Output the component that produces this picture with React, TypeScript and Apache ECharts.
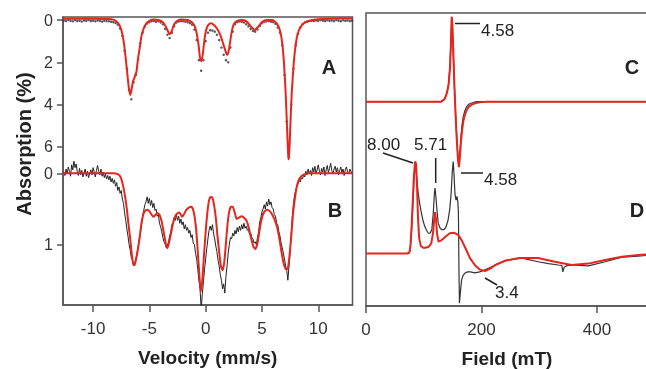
import React, { useEffect, useRef } from "react";
import * as echarts from "echarts";

// ---------- axis ticks ----------
const velocityTicks = [-10, -5, 0, 5, 10];
const aAbsTicks = [0, 2, 4, 6];
const bAbsTicks = [0, 1];
const fieldTicks = [0, 200, 400];

// ---------- Panel A (Mössbauer) ----------
const aExpStart = -12.6;
const aExpStep = 0.2;
const aExpAbs = [
  0.02, 0.05, 0.0, 0.04, 0.06, 0.01, 0.05, 0.03, 0.07, 0.02,
  0.04, 0.0, 0.05, 0.03, 0.06, 0.02, 0.04, 0.07, 0.03, 0.05,
  0.06, 0.08, 0.1, 0.14, 0.22, 0.4, 0.75, 1.45, 2.3, 3.3,
  3.75, 2.95, 2.6, 1.85, 1.1, 0.6, 0.3, 0.16, 0.1, 0.06,
  0.05, 0.08, 0.06, 0.12, 0.2, 0.42, 0.7, 0.85, 0.6, 0.3,
  0.12, 0.07, 0.05, 0.06, 0.08, 0.1, 0.15, 0.22, 0.45, 0.95,
  1.9, 2.4, 1.9, 1.0, 0.6, 0.48, 0.5, 0.55, 0.7, 0.95,
  1.3, 1.65, 1.9, 2.0, 1.3, 0.55, 0.2, 0.1, 0.07, 0.08,
  0.12, 0.2, 0.3, 0.42, 0.52, 0.55, 0.45, 0.28, 0.15, 0.09,
  0.06, 0.05, 0.08, 0.1, 0.18, 0.35, 0.6, 1.2, 2.6, 4.8,
  6.5, 4.0, 2.3, 1.2, 0.65, 0.35, 0.2, 0.12, 0.08, 0.05,
  0.03, 0.05, 0.02, 0.04, 0.0, 0.03, 0.05, 0.01, 0.04, 0.02,
  0.05, 0.0, 0.03, 0.05, 0.01, 0.04, 0.02, 0.05, 0.03,
];
const aFitCurve: [number, number][] = [
  [-12.67, -0.06], [-10, -0.06], [-8.6, -0.05], [-8.2, -0.02], [-7.9, 0.08], [-7.7, 0.2],
  [-7.5, 0.45], [-7.3, 0.95], [-7.1, 1.8], [-6.95, 2.6], [-6.8, 3.3], [-6.7, 3.55],
  [-6.6, 3.35], [-6.45, 2.9], [-6.3, 2.7], [-6.15, 2.45], [-6.0, 1.8], [-5.85, 1.3],
  [-5.7, 0.75], [-5.5, 0.4], [-5.3, 0.18], [-5.0, 0.04], [-4.6, -0.02], [-4.2, 0.0],
  [-3.8, 0.1], [-3.5, 0.35], [-3.2, 0.68], [-3.0, 0.5], [-2.8, 0.2], [-2.5, 0.03],
  [-2.1, -0.02], [-1.6, 0.0], [-1.2, 0.12], [-0.9, 0.4], [-0.65, 1.1], [-0.5, 1.8],
  [-0.38, 1.95], [-0.25, 1.6], [-0.1, 0.9], [0.05, 0.45], [0.25, 0.22], [0.5, 0.15],
  [0.75, 0.25], [1.0, 0.4], [1.3, 0.7], [1.6, 1.2], [1.85, 1.6], [1.95, 1.65],
  [2.1, 1.3], [2.3, 0.6], [2.5, 0.2], [2.8, 0.04], [3.3, 0.0], [3.7, 0.1],
  [4.0, 0.3], [4.35, 0.47], [4.7, 0.3], [5.0, 0.1], [5.4, 0.0], [5.9, 0.0],
  [6.3, 0.15], [6.6, 0.5], [6.8, 1.1], [6.95, 2.0], [7.1, 3.4], [7.22, 5.0],
  [7.33, 6.4], [7.38, 6.6], [7.45, 6.0], [7.55, 4.6], [7.65, 3.4], [7.8, 2.2],
  [7.95, 1.35], [8.15, 0.7], [8.4, 0.35], [8.8, 0.12], [9.3, 0.02], [10, -0.04],
  [11, -0.06], [13.04, -0.07],
];

// ---------- Panel B (Mössbauer) ----------
const bExpStart = -12.6;
const bExpStep = 0.1;
const bExpAbs = [
  -0.02, 0.03, -0.06, 0.01, -0.09, -0.03, 0.04, -0.12, -0.05, -0.17,
  -0.08, -0.13, -0.02, 0.03, -0.07, 0.02, -0.04, 0.05, -0.01, -0.06,
  0.04, -0.03, 0.06, 0.0, -0.05, 0.02, -0.08, -0.02, 0.05, -0.04,
  -0.11, -0.03, 0.02, -0.06, 0.04, -0.02, 0.06, 0.01, 0.08, 0.03,
  0.09, 0.04, 0.12, 0.07, 0.14, 0.09, 0.18, 0.13, 0.24, 0.19,
  0.28, 0.24, 0.36, 0.42, 0.55, 0.66, 0.78, 0.88, 1.0, 1.08,
  1.18, 1.22, 1.3, 1.27, 1.2, 1.12, 1.02, 0.93, 0.84, 0.72,
  0.6, 0.52, 0.44, 0.4, 0.33, 0.42, 0.35, 0.45, 0.38, 0.48,
  0.42, 0.52, 0.5, 0.6, 0.58, 0.7, 0.75, 0.82, 0.9, 0.96,
  0.99, 1.04, 1.02, 0.96, 0.88, 0.82, 0.72, 0.7, 0.62, 0.66,
  0.58, 0.66, 0.6, 0.7, 0.64, 0.72, 0.68, 0.78, 0.72, 0.8,
  0.76, 0.84, 0.8, 0.9, 0.86, 0.98, 1.0, 1.12, 1.2, 1.35,
  1.5, 1.62, 1.9, 1.7, 1.52, 1.35, 1.2, 1.05, 0.92, 0.8,
  0.74, 0.8, 0.72, 0.84, 0.92, 1.02, 1.1, 1.22, 1.3, 1.42,
  1.5, 1.62, 1.55, 1.68, 1.45, 1.3, 1.12, 1.0, 0.9, 0.92,
  0.84, 0.88, 0.8, 0.85, 0.76, 0.82, 0.74, 0.8, 0.72, 0.78,
  0.7, 0.77, 0.74, 0.8, 0.78, 0.86, 0.84, 0.9, 0.92, 0.98,
  0.96, 1.0, 0.9, 0.82, 0.68, 0.62, 0.54, 0.5, 0.44, 0.5,
  0.4, 0.46, 0.36, 0.44, 0.4, 0.48, 0.5, 0.58, 0.6, 0.7,
  0.72, 0.82, 0.88, 0.98, 1.04, 1.12, 1.2, 1.3, 1.36, 1.5,
  1.3, 1.1, 0.85, 0.6, 0.42, 0.3, 0.24, 0.18, 0.15, 0.1,
  0.12, 0.06, 0.08, 0.02, 0.05, -0.03, 0.02, -0.06, 0.01, -0.04,
  0.03, -0.08, -0.02, -0.1, 0.0, -0.05, -0.12, -0.03, 0.02, -0.07,
  -0.02, -0.09, 0.03, -0.05, -0.11, -0.01, -0.07, -0.14, -0.04, 0.01,
  -0.06, -0.1, -0.02, -0.08, 0.02, -0.04, -0.09, -0.01, -0.06, 0.03,
  -0.05, -0.09, -0.02, 0.01, -0.06, -0.03, 0.0,
];
const bFitCurve: [number, number][] = [
  [-12.67, 0.0], [-8.2, 0.0], [-7.8, 0.01], [-7.6, 0.04], [-7.45, 0.1], [-7.3, 0.2],
  [-7.15, 0.33], [-7.0, 0.5], [-6.85, 0.72], [-6.7, 0.92], [-6.55, 1.15], [-6.4, 1.29],
  [-6.3, 1.28], [-6.15, 1.18], [-6.0, 1.05], [-5.85, 0.88], [-5.7, 0.7], [-5.55, 0.58],
  [-5.4, 0.53], [-5.2, 0.51], [-5.0, 0.53], [-4.8, 0.58], [-4.65, 0.61], [-4.5, 0.59],
  [-4.3, 0.56], [-4.1, 0.58], [-3.9, 0.68], [-3.7, 0.85], [-3.5, 1.02], [-3.4, 1.05],
  [-3.3, 1.0], [-3.1, 0.86], [-2.9, 0.7], [-2.7, 0.6], [-2.5, 0.56], [-2.35, 0.55],
  [-2.2, 0.58], [-2.1, 0.61], [-1.95, 0.58], [-1.75, 0.52], [-1.5, 0.48], [-1.25, 0.47],
  [-1.05, 0.55], [-0.85, 0.78], [-0.7, 1.1], [-0.55, 1.45], [-0.44, 1.66], [-0.3, 1.5],
  [-0.15, 1.15], [0.0, 0.82], [0.15, 0.55], [0.3, 0.38], [0.45, 0.33], [0.6, 0.34],
  [0.75, 0.45], [0.9, 0.62], [1.05, 0.88], [1.2, 1.1], [1.35, 1.3], [1.5, 1.36],
  [1.65, 1.25], [1.8, 0.98], [1.95, 0.7], [2.1, 0.53], [2.25, 0.47], [2.4, 0.47],
  [2.6, 0.56], [2.75, 0.64], [2.95, 0.62], [3.2, 0.6], [3.45, 0.63], [3.65, 0.67],
  [3.85, 0.78], [4.05, 0.92], [4.25, 1.03], [4.42, 1.06], [4.6, 0.98], [4.8, 0.78],
  [5.0, 0.62], [5.2, 0.54], [5.45, 0.51], [5.7, 0.53], [5.95, 0.59], [6.15, 0.66],
  [6.35, 0.76], [6.55, 0.92], [6.75, 1.12], [6.95, 1.28], [7.15, 1.35], [7.3, 1.33],
  [7.45, 1.15], [7.6, 0.88], [7.75, 0.58], [7.9, 0.38], [8.05, 0.22], [8.25, 0.1],
  [8.5, 0.04], [8.8, 0.01], [9.2, 0.0], [13.04, 0.0],
];

// ---------- Panel C (EPR) ----------
const cExpCurve: [number, number][] = [
  [0, 0], [130, 0], [136, 0.03], [140, 0.1], [143, 0.21], [145.5, 0.42], [147.2, 0.75],
  [148.4, 0.98], [149.5, 0.9], [150.6, 0.68], [152, 0.4], [153, 0.2], [154.2, 0.02],
  [155.3, -0.15], [156.8, -0.36], [158.1, -0.52], [159.5, -0.66], [161, -0.72],
  [162.5, -0.6], [164.5, -0.4], [166.5, -0.26], [168.5, -0.17], [171, -0.11],
  [174.3, -0.06], [178, -0.03], [183, -0.015], [190, 0], [488, 0],
];
const cFitCurve: [number, number][] = [
  [0, 0], [130, 0], [136, 0.03], [140, 0.1], [143, 0.2], [145.5, 0.4], [147.2, 0.71],
  [148.4, 1.0], [149.5, 0.92], [150.6, 0.71], [152, 0.42], [153, 0.2], [154.2, 0.0],
  [155.3, -0.19], [156.8, -0.4], [158.1, -0.56], [159.5, -0.7], [161, -0.77],
  [162.5, -0.66], [164.5, -0.47], [166.5, -0.33], [168.5, -0.23], [171, -0.16],
  [174.3, -0.1], [178, -0.06], [183, -0.035], [190, -0.015], [200, -0.005], [210, 0], [488, 0],
];

// ---------- Panel D (EPR) ----------
const dExpCurve: [number, number][] = [
  [0, 0], [72, 0], [76, 0.02], [79, 0.25], [81, 0.5], [83, 0.8], [85, 0.96], [86.5, 0.93],
  [88, 0.8], [90.5, 0.65], [93, 0.54], [96, 0.44], [99, 0.35], [102, 0.29], [105, 0.25],
  [108, 0.22], [111, 0.22], [114, 0.26], [116.5, 0.44], [118.5, 0.66], [119.5, 0.71],
  [121, 0.62], [122.5, 0.5], [125, 0.33], [128, 0.28], [131, 0.26], [135, 0.26],
  [138, 0.28], [142, 0.36], [145, 0.48], [147.5, 0.66], [149.5, 0.9], [151, 1.0],
  [152.5, 0.85], [154, 0.65], [155.8, 0.58], [157.5, 0.62], [159, 0.56], [160, 0.45],
  [161, -0.2], [161.8, -0.54], [163, -0.45], [165.5, -0.29], [168, -0.24], [171, -0.215],
  [176, -0.2], [181, -0.2], [188, -0.21], [197, -0.2], [205, -0.18], [212, -0.16],
  [229, -0.11], [246, -0.07], [270, -0.05], [298, -0.09], [316, -0.11], [333, -0.125],
  [339, -0.13], [341, -0.2], [343, -0.15], [347, -0.135], [356, -0.125], [385, -0.135],
  [414, -0.09], [443, -0.04], [471, -0.03], [488, -0.02],
];
const dFitCurve: [number, number][] = [
  [0, 0], [72, 0], [75, 0.01], [77, 0.08], [79, 0.3], [81, 0.58], [83, 0.85], [85, 1.0],
  [86.5, 0.98], [88, 0.8], [90, 0.4], [92, 0.17], [95, 0.08], [100, 0.06], [108, 0.07],
  [113, 0.11], [116, 0.22], [118.5, 0.4], [119.5, 0.45], [121, 0.38], [123, 0.22],
  [125.5, 0.13], [130, 0.14], [137, 0.18], [145, 0.22], [153, 0.225], [160, 0.2],
  [166, 0.14], [172, 0.06], [180, -0.05], [189, -0.13], [197, -0.175], [206, -0.19],
  [215, -0.165], [224, -0.125], [240, -0.08], [265, -0.05], [298, -0.05], [327, -0.09],
  [356, -0.125], [385, -0.11], [414, -0.07], [443, -0.035], [471, -0.016], [488, -0.01],
];

const FONT = "Liberation Sans, Arial, Helvetica, sans-serif";
const RED = "#e5261f";
const INK = "#222";
const FRAME = "#555";

const expPairs = (start: number, step: number, vals: number[]) =>
  vals.map((v, i) => [+(start + i * step).toFixed(3), v]);

export default function App() {
  const ref = useRef<HTMLDivElement>(null);
  useEffect(() => {
    if (!ref.current) return;
    const chart = echarts.init(ref.current, null, { renderer: "svg" });
    const leftGrid = { left: 63, top: 17, width: 289.5, height: 288, containLabel: false, outerBoundsMode: "none" };
    const rightGrid = { left: 366, top: 13, width: 282, height: 293, containLabel: false, outerBoundsMode: "none" };
    const tickLabel = { color: "#333", fontSize: 17, fontFamily: FONT };
    const annText = (text: string, x: number, y: number) => ({
      type: "text",
      x,
      y,
      style: { text, fontSize: 17, fontFamily: FONT, fill: INK, align: "left", verticalAlign: "middle" },
    });
    const panelLetter = (text: string, x: number, y: number) => ({
      type: "text",
      x,
      y,
      style: { text, fontSize: 20, fontWeight: "bold", fontFamily: FONT, fill: INK, align: "center", verticalAlign: "middle" },
    });
    const leader = (x1: number, y1: number, x2: number, y2: number) => ({
      type: "line",
      shape: { x1, y1, x2, y2 },
      style: { stroke: INK, lineWidth: 1.5 },
    });

    chart.setOption({
      animation: false,
      grid: [
        { ...leftGrid, show: true, borderColor: FRAME, borderWidth: 1.5, backgroundColor: "transparent" },
        { ...leftGrid },
        { ...rightGrid, show: true, borderColor: FRAME, borderWidth: 1.5, backgroundColor: "transparent" },
        { ...rightGrid },
      ],
      xAxis: [
        { gridIndex: 0, type: "value", min: -12.67, max: 13.04, show: false },
        {
          gridIndex: 1, type: "value", min: -12.67, max: 13.04,
          axisLine: { show: true, onZero: false, lineStyle: { color: FRAME, width: 1.5 } },
          axisTick: { show: true, length: 7, customValues: velocityTicks, lineStyle: { color: FRAME, width: 1.5 } },
          axisLabel: { ...tickLabel, margin: 15, customValues: velocityTicks },
          splitLine: { show: false },
          name: "Velocity (mm/s)", nameLocation: "middle", nameGap: 43,
          nameTextStyle: { fontSize: 19, fontWeight: "bold", color: INK, fontFamily: FONT },
        },
        { gridIndex: 2, type: "value", min: 0, max: 488.3, show: false },
        {
          gridIndex: 3, type: "value", min: 0, max: 488.3,
          axisLine: { show: true, onZero: false, lineStyle: { color: FRAME, width: 1.5 } },
          axisTick: { show: true, length: 7, customValues: fieldTicks, lineStyle: { color: FRAME, width: 1.5 } },
          axisLabel: { ...tickLabel, margin: 15, customValues: fieldTicks },
          splitLine: { show: false },
          name: "Field (mT)", nameLocation: "middle", nameGap: 43,
          nameTextStyle: { fontSize: 19, fontWeight: "bold", color: INK, fontFamily: FONT },
        },
      ],
      yAxis: [
        {
          gridIndex: 0, type: "value", inverse: true, min: -0.142, max: 13.49,
          axisLine: { show: true, onZero: false, lineStyle: { color: FRAME, width: 1.5 } },
          axisTick: { show: true, length: 6, customValues: aAbsTicks, lineStyle: { color: FRAME, width: 1.5 } },
          axisLabel: { color: "#333", fontSize: 16, fontFamily: FONT, margin: 10, customValues: aAbsTicks },
          splitLine: { show: false },
        },
        {
          gridIndex: 1, type: "value", inverse: true, min: -2.194, max: 1.847,
          axisLine: { show: false, onZero: false },
          axisTick: { show: true, length: 6, customValues: bAbsTicks, lineStyle: { color: FRAME, width: 1.5 } },
          axisLabel: { color: "#333", fontSize: 16, fontFamily: FONT, margin: 10, customValues: bAbsTicks },
          splitLine: { show: false },
        },
        { gridIndex: 2, type: "value", min: -2.4035, max: 1.0435, show: false },
        { gridIndex: 3, type: "value", min: -0.5707, max: 2.614, show: false },
      ],
      series: [
        {
          type: "scatter", xAxisIndex: 0, yAxisIndex: 0, symbolSize: 2.5,
          itemStyle: { color: "#333" }, data: expPairs(aExpStart, aExpStep, aExpAbs), silent: true,
        },
        {
          type: "line", xAxisIndex: 0, yAxisIndex: 0, showSymbol: false, smooth: 0.2,
          lineStyle: { color: RED, width: 2 }, data: aFitCurve,
        },
        {
          type: "line", xAxisIndex: 1, yAxisIndex: 1, showSymbol: false,
          lineStyle: { color: "#222", width: 1 }, data: expPairs(bExpStart, bExpStep, bExpAbs),
        },
        {
          type: "line", xAxisIndex: 1, yAxisIndex: 1, showSymbol: false, smooth: 0.2,
          lineStyle: { color: RED, width: 2 }, data: bFitCurve,
        },
        {
          type: "line", xAxisIndex: 2, yAxisIndex: 2, showSymbol: false,
          lineStyle: { color: "#333", width: 1.2 }, data: cExpCurve,
        },
        {
          type: "line", xAxisIndex: 2, yAxisIndex: 2, showSymbol: false,
          lineStyle: { color: RED, width: 2 }, data: cFitCurve,
        },
        {
          type: "line", xAxisIndex: 3, yAxisIndex: 3, showSymbol: false,
          lineStyle: { color: "#333", width: 1.2 }, data: dExpCurve,
        },
        {
          type: "line", xAxisIndex: 3, yAxisIndex: 3, showSymbol: false,
          lineStyle: { color: RED, width: 2 }, data: dFitCurve,
        },
      ],
      graphic: [
        {
          type: "text", x: 23.5, y: 144, rotation: Math.PI / 2,
          style: { text: "Absorption (%)", fontSize: 20, fontWeight: "bold", fontFamily: FONT, fill: INK, align: "center", verticalAlign: "middle" },
        },
        panelLetter("A", 329, 67),
        panelLetter("B", 335, 210),
        panelLetter("C", 632, 67),
        panelLetter("D", 637, 210),
        leader(455, 23.5, 480, 23.5),
        annText("4.58", 481, 30),
        annText("8.00", 367, 144),
        leader(383, 153, 413, 163),
        annText("5.71", 414, 144),
        leader(435.7, 158, 435.7, 183),
        leader(461, 173, 483, 173),
        annText("4.58", 484, 179),
        leader(485, 278, 497, 285),
        annText("3.4", 495, 292),
      ],
    });
    return () => chart.dispose();
  }, []);
  return <div ref={ref} style={{ position: "fixed", left: 0, top: 0, width: 646, height: 369 }} />;
}
